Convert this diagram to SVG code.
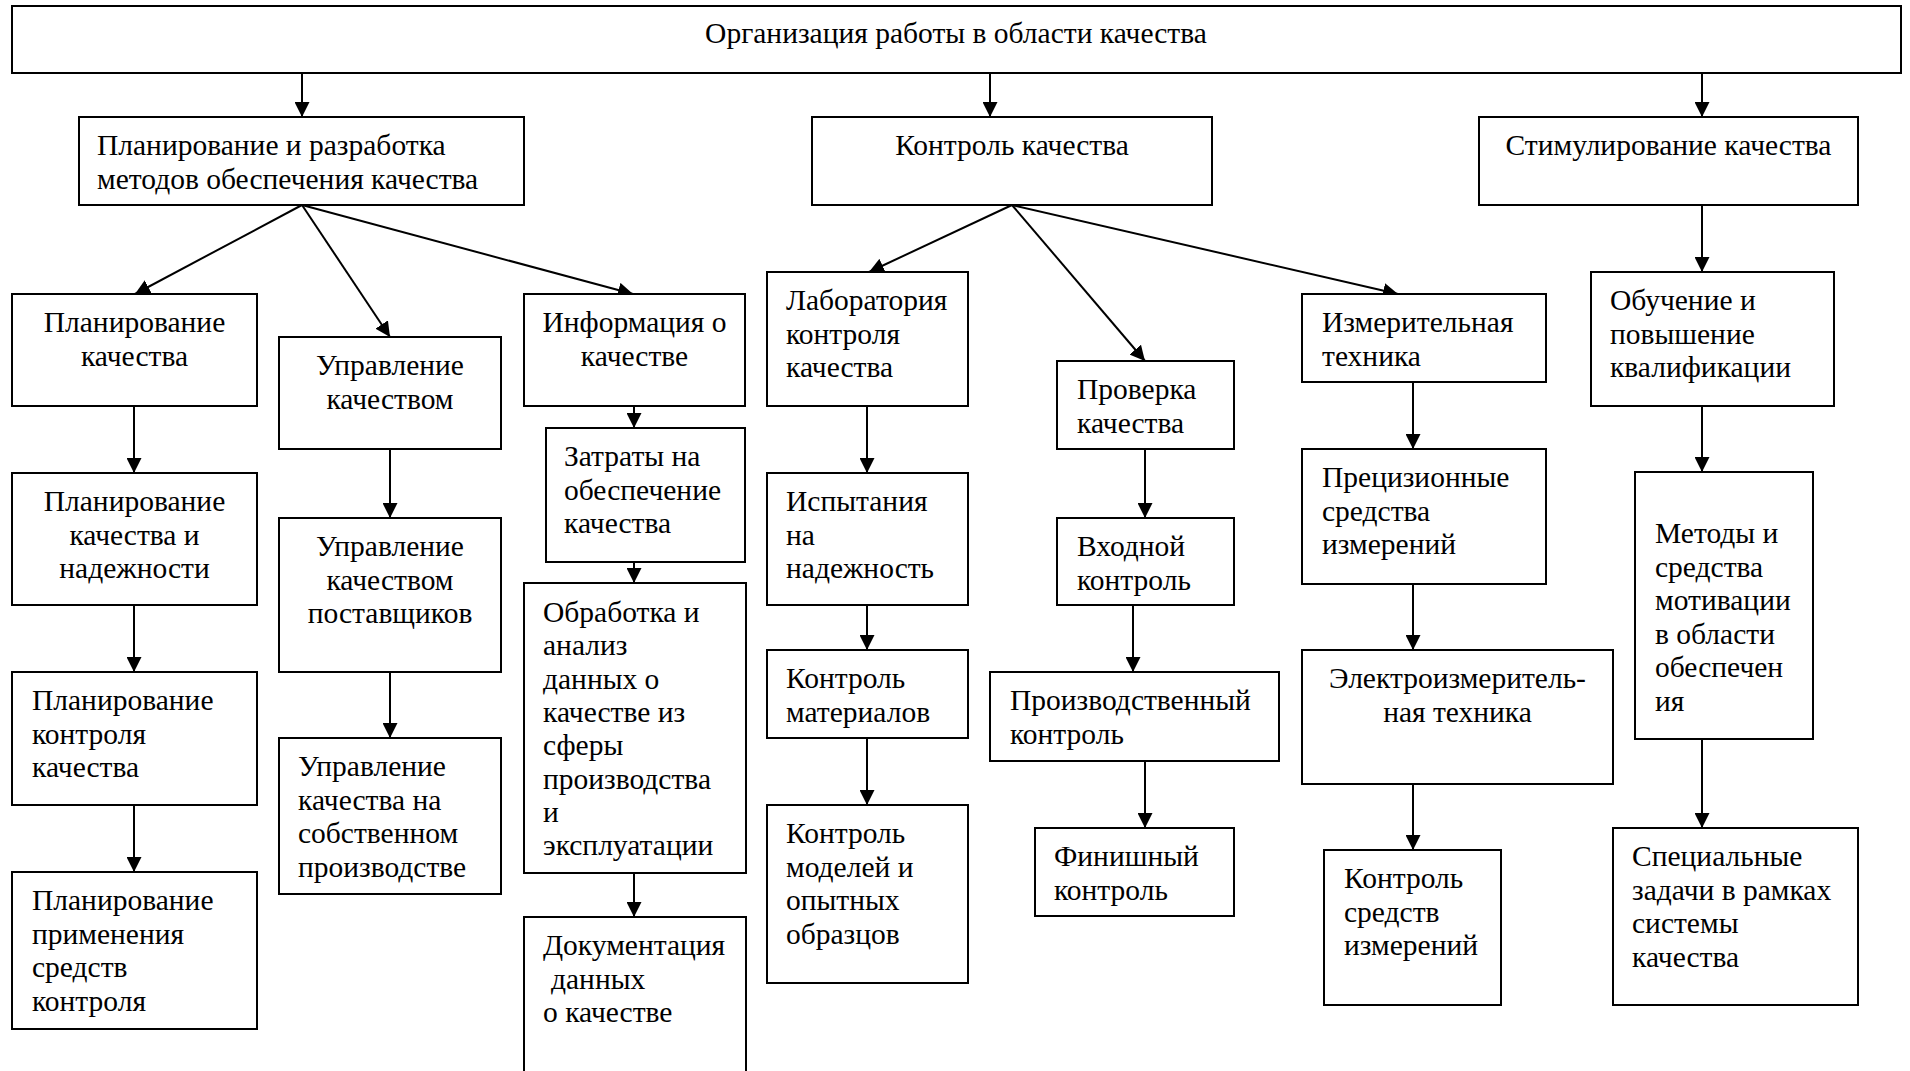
<svg xmlns="http://www.w3.org/2000/svg" width="1910" height="1071" viewBox="0 0 1910 1071">
<style>
.b{fill:#fff;stroke:#000;stroke-width:2}
.t{font-family:"Liberation Serif","Times New Roman",serif;font-size:29.5px;fill:#000}
.c{text-anchor:middle}
.k{stroke:#000;stroke-width:2;fill:none;marker-end:url(#ah)}
</style>
<defs>
<marker id="ah" markerUnits="userSpaceOnUse" viewBox="0 0 15 15" refX="15" refY="7.5" markerWidth="15" markerHeight="15" orient="auto">
<path d="M0,0 L15,7.5 L0,15 z" fill="#000"/>
</marker>
</defs>
<rect width="1910" height="1071" fill="#fff"/>
<g id="connectors">
<line class="k" x1="302" y1="73" x2="302" y2="117"/>
<line class="k" x1="990" y1="73" x2="990" y2="117"/>
<line class="k" x1="1702" y1="73" x2="1702" y2="117"/>
<line class="k" x1="302" y1="205" x2="135" y2="294"/>
<line class="k" x1="302" y1="205" x2="390" y2="337"/>
<line class="k" x1="302" y1="205" x2="633" y2="294"/>
<line class="k" x1="1012" y1="205" x2="869" y2="272"/>
<line class="k" x1="1012" y1="205" x2="1145" y2="361"/>
<line class="k" x1="1012" y1="205" x2="1398" y2="294"/>
<line class="k" x1="1702" y1="205" x2="1702" y2="272"/>
<line class="k" x1="134" y1="406" x2="134" y2="473"/>
<line class="k" x1="134" y1="605" x2="134" y2="672"/>
<line class="k" x1="134" y1="805" x2="134" y2="872"/>
<line class="k" x1="390" y1="449" x2="390" y2="518"/>
<line class="k" x1="390" y1="672" x2="390" y2="738"/>
<line class="k" x1="634" y1="406" x2="634" y2="428"/>
<line class="k" x1="634" y1="562" x2="634" y2="583"/>
<line class="k" x1="634" y1="873" x2="634" y2="917"/>
<line class="k" x1="867" y1="406" x2="867" y2="473"/>
<line class="k" x1="867" y1="605" x2="867" y2="650"/>
<line class="k" x1="867" y1="738" x2="867" y2="805"/>
<line class="k" x1="1145" y1="449" x2="1145" y2="518"/>
<line class="k" x1="1133" y1="605" x2="1133" y2="672"/>
<line class="k" x1="1145" y1="761" x2="1145" y2="828"/>
<line class="k" x1="1413" y1="382" x2="1413" y2="449"/>
<line class="k" x1="1413" y1="584" x2="1413" y2="650"/>
<line class="k" x1="1413" y1="784" x2="1413" y2="850"/>
<line class="k" x1="1702" y1="406" x2="1702" y2="472"/>
<line class="k" x1="1702" y1="739" x2="1702" y2="828"/>
</g>
<g id="n-top"><rect class="b" x="12" y="6" width="1889" height="67"/><text class="t c" x="956" y="43">Организация работы в области качества</text></g>
<g id="n-plan-dev"><rect class="b" x="79" y="117" width="445" height="88"/><text class="t" x="97"><tspan x="97" y="155">Планирование и разработка</tspan><tspan x="97" y="188.5">методов обеспечения качества</tspan></text></g>
<g id="n-control"><rect class="b" x="812" y="117" width="400" height="88"/><text class="t c" x="1012" y="155">Контроль качества</text></g>
<g id="n-stim"><rect class="b" x="1479" y="117" width="379" height="88"/><text class="t c" x="1668.5" y="155">Стимулирование качества</text></g>

<g id="n-c1a"><rect class="b" x="12" y="294" width="245" height="112"/><text class="t c"><tspan x="134.5" y="332">Планирование</tspan><tspan x="134.5" y="365.5">качества</tspan></text></g>
<g id="n-c1b"><rect class="b" x="12" y="473" width="245" height="132"/><text class="t c"><tspan x="134.5" y="511">Планирование</tspan><tspan x="134.5" y="544.5">качества и</tspan><tspan x="134.5" y="578">надежности</tspan></text></g>
<g id="n-c1c"><rect class="b" x="12" y="672" width="245" height="133"/><text class="t"><tspan x="32" y="710">Планирование</tspan><tspan x="32" y="743.5">контроля</tspan><tspan x="32" y="777">качества</tspan></text></g>
<g id="n-c1d"><rect class="b" x="12" y="872" width="245" height="157"/><text class="t"><tspan x="32" y="910">Планирование</tspan><tspan x="32" y="943.5">применения</tspan><tspan x="32" y="977">средств</tspan><tspan x="32" y="1010.5">контроля</tspan></text></g>

<g id="n-c2a"><rect class="b" x="279" y="337" width="222" height="112"/><text class="t c"><tspan x="390" y="375">Управление</tspan><tspan x="390" y="408.5">качеством</tspan></text></g>
<g id="n-c2b"><rect class="b" x="279" y="518" width="222" height="154"/><text class="t c"><tspan x="390" y="556">Управление</tspan><tspan x="390" y="589.5">качеством</tspan><tspan x="390" y="623">поставщиков</tspan></text></g>
<g id="n-c2c"><rect class="b" x="279" y="738" width="222" height="156"/><text class="t"><tspan x="298" y="776">Управление</tspan><tspan x="298" y="809.5">качества на</tspan><tspan x="298" y="843">собственном</tspan><tspan x="298" y="876.5">производстве</tspan></text></g>

<g id="n-c3a"><rect class="b" x="524" y="294" width="221" height="112"/><text class="t c"><tspan x="634.5" y="332">Информация о</tspan><tspan x="634.5" y="365.5">качестве</tspan></text></g>
<g id="n-c3b"><rect class="b" x="546" y="428" width="199" height="134"/><text class="t"><tspan x="564" y="466">Затраты на</tspan><tspan x="564" y="499.5">обеспечение</tspan><tspan x="564" y="533">качества</tspan></text></g>
<g id="n-c3c"><rect class="b" x="524" y="583" width="222" height="290"/><text class="t"><tspan x="543" y="622">Обработка и</tspan><tspan x="543" y="655.3">анализ</tspan><tspan x="543" y="688.6">данных о</tspan><tspan x="543" y="721.9">качестве из</tspan><tspan x="543" y="755.2">сферы</tspan><tspan x="543" y="788.5">производства</tspan><tspan x="543" y="821.8">и</tspan><tspan x="543" y="855.1">эксплуатации</tspan></text></g>
<g id="n-c3d"><rect class="b" x="524" y="917" width="222" height="170"/><text class="t"><tspan x="543" y="955">Документация</tspan><tspan x="551" y="988.5">данных</tspan><tspan x="543" y="1022">о качестве</tspan></text></g>

<g id="n-c4a"><rect class="b" x="767" y="272" width="201" height="134"/><text class="t"><tspan x="786" y="310">Лаборатория</tspan><tspan x="786" y="343.5">контроля</tspan><tspan x="786" y="377">качества</tspan></text></g>
<g id="n-c4b"><rect class="b" x="767" y="473" width="201" height="132"/><text class="t"><tspan x="786" y="511">Испытания</tspan><tspan x="786" y="544.5">на</tspan><tspan x="786" y="578">надежность</tspan></text></g>
<g id="n-c4c"><rect class="b" x="767" y="650" width="201" height="88"/><text class="t"><tspan x="786" y="688">Контроль</tspan><tspan x="786" y="721.5">материалов</tspan></text></g>
<g id="n-c4d"><rect class="b" x="767" y="805" width="201" height="178"/><text class="t"><tspan x="786" y="843">Контроль</tspan><tspan x="786" y="876.5">моделей и</tspan><tspan x="786" y="910">опытных</tspan><tspan x="786" y="943.5">образцов</tspan></text></g>

<g id="n-c5a"><rect class="b" x="1057" y="361" width="177" height="88"/><text class="t"><tspan x="1077" y="399">Проверка</tspan><tspan x="1077" y="432.5">качества</tspan></text></g>
<g id="n-c5b"><rect class="b" x="1057" y="518" width="177" height="87"/><text class="t"><tspan x="1077" y="556">Входной</tspan><tspan x="1077" y="589.5">контроль</tspan></text></g>
<g id="n-c5c"><rect class="b" x="990" y="672" width="289" height="89"/><text class="t"><tspan x="1010" y="710">Производственный</tspan><tspan x="1010" y="743.5">контроль</tspan></text></g>
<g id="n-c5d"><rect class="b" x="1035" y="828" width="199" height="88"/><text class="t"><tspan x="1054" y="866">Финишный</tspan><tspan x="1054" y="899.5">контроль</tspan></text></g>

<g id="n-c6a"><rect class="b" x="1302" y="294" width="244" height="88"/><text class="t"><tspan x="1322" y="332">Измерительная</tspan><tspan x="1322" y="365.5">техника</tspan></text></g>
<g id="n-c6b"><rect class="b" x="1302" y="449" width="244" height="135"/><text class="t"><tspan x="1322" y="487">Прецизионные</tspan><tspan x="1322" y="520.5">средства</tspan><tspan x="1322" y="554">измерений</tspan></text></g>
<g id="n-c6c"><rect class="b" x="1302" y="650" width="311" height="134"/><text class="t c"><tspan x="1457.5" y="688">Электроизмеритель-</tspan><tspan x="1457.5" y="721.5">ная техника</tspan></text></g>
<g id="n-c6d"><rect class="b" x="1324" y="850" width="177" height="155"/><text class="t"><tspan x="1344" y="888">Контроль</tspan><tspan x="1344" y="921.5">средств</tspan><tspan x="1344" y="955">измерений</tspan></text></g>

<g id="n-c7a"><rect class="b" x="1591" y="272" width="243" height="134"/><text class="t"><tspan x="1610" y="310">Обучение и</tspan><tspan x="1610" y="343.5">повышение</tspan><tspan x="1610" y="377">квалификации</tspan></text></g>
<g id="n-c7b"><rect class="b" x="1635" y="472" width="178" height="267"/><text class="t"><tspan x="1655" y="543">Методы и</tspan><tspan x="1655" y="576.5">средства</tspan><tspan x="1655" y="610">мотивации</tspan><tspan x="1655" y="643.5">в области</tspan><tspan x="1655" y="677">обеспечен</tspan><tspan x="1655" y="710.5">ия</tspan></text></g>
<g id="n-c7c"><rect class="b" x="1613" y="828" width="245" height="177"/><text class="t"><tspan x="1632" y="866">Специальные</tspan><tspan x="1632" y="899.5">задачи в рамках</tspan><tspan x="1632" y="933">системы</tspan><tspan x="1632" y="966.5">качества</tspan></text></g>
</svg>
